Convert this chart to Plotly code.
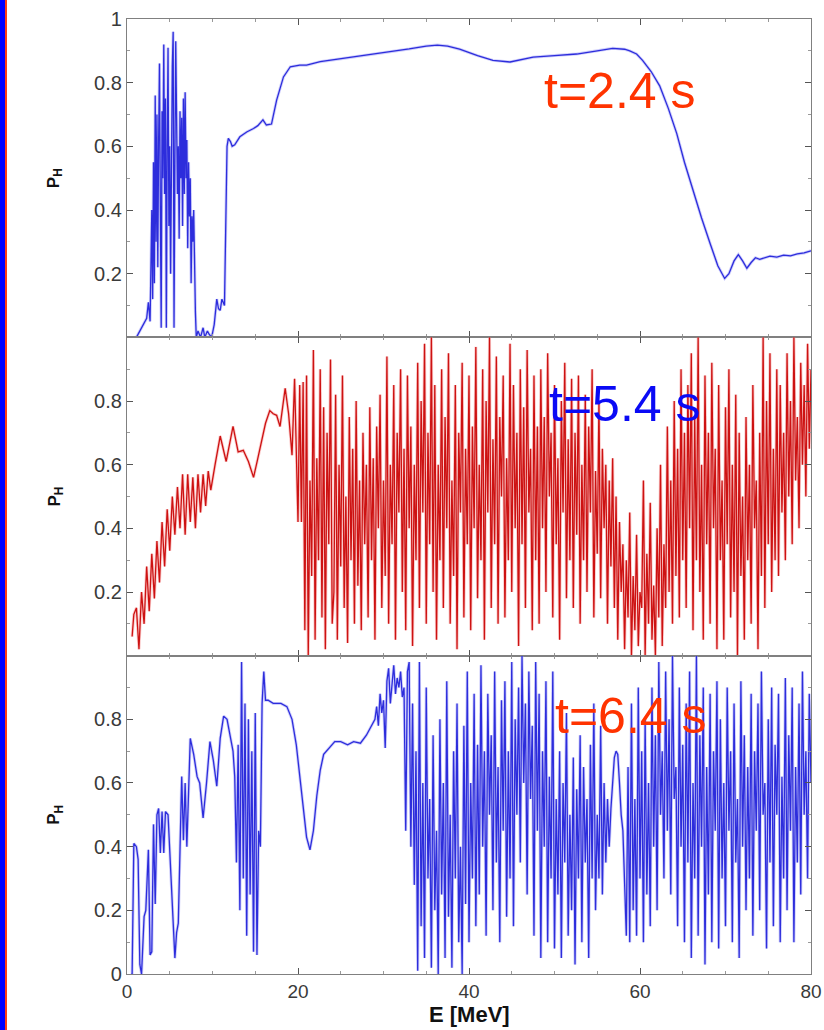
import numpy as np
import plotly.graph_objects as go
from plotly.subplots import make_subplots

# ---------------- data: survival probability P_H vs energy E [MeV] ----------------
# t = 2.4 s (explicit E / P pairs)
top_E = [1.1, 1.5, 1.9, 2.3, 2.5, 2.7, 2.9, 3.0, 3.1, 3.2, 3.3, 3.4, 3.5, 3.6, 3.7, 3.8, 3.9, 4.0,
         4.1, 4.2, 4.3, 4.4, 4.5, 4.6, 4.7, 4.8, 4.9, 5.0, 5.1, 5.2, 5.3, 5.4, 5.5, 5.6, 5.7, 5.8,
         5.9, 6.0, 6.1, 6.2, 6.3, 6.4, 6.5, 6.6, 6.7, 6.8, 6.9, 7.0, 7.1, 7.2, 7.3, 7.4, 7.5, 7.6,
         7.7, 7.8, 7.9, 8.0, 8.1,
         8.3, 8.6, 8.9, 9.1, 9.4, 9.6, 9.9, 10.2, 10.5, 10.7, 10.9, 11.1, 11.4, 11.55, 11.7, 11.85,
         12.1, 12.3, 12.6, 13.2, 14.0, 14.8, 15.3, 15.9, 16.3, 16.9, 17.5, 18.3, 19.1, 20.2, 21.0,
         22.6, 24.5, 26.5, 28.4, 30.5, 33.0, 35.0, 36.3, 37.5, 38.9, 41.0, 42.8, 44.8, 46.2, 47.5,
         50.0, 52.6, 55.0, 56.8, 58.2, 58.8, 59.6, 60.3, 61.3, 62.3, 63.3, 64.3, 65.2, 66.2, 67.2,
         68.2, 69.1, 69.9, 70.4, 71.0, 71.5, 72.0, 72.5, 73.0, 73.5, 74.0, 74.5, 75.2, 76.0, 76.8,
         77.6, 78.4, 79.2, 80.0]
top_P = [0.0, 0.02, 0.04, 0.06, 0.11, 0.05, 0.40, 0.12, 0.55, 0.17, 0.76, 0.30, 0.70, 0.22, 0.62,
         0.86, 0.40, 0.03, 0.71, 0.50, 0.92, 0.45, 0.75, 0.03, 0.60, 0.91, 0.35, 0.60, 0.20, 0.70,
         0.85, 0.96, 0.03, 0.55, 0.93, 0.69, 0.45, 0.60, 0.31, 0.71, 0.50, 0.69, 0.35, 0.75, 0.45,
         0.77, 0.50, 0.62, 0.28, 0.55, 0.38, 0.50, 0.17, 0.38, 0.30, 0.40, 0.20, 0.08, 0.0,
         0.02, 0.0, 0.03, 0.0, 0.02, 0.01, 0.0, 0.04, 0.12, 0.09, 0.085, 0.12, 0.10, 0.35, 0.60, 0.625,
         0.615, 0.60, 0.605, 0.63, 0.645, 0.656, 0.665, 0.683, 0.667, 0.67, 0.745, 0.818, 0.85, 0.855,
         0.855, 0.866, 0.873, 0.88, 0.887, 0.897, 0.906, 0.915, 0.918, 0.915, 0.905, 0.885, 0.87,
         0.865, 0.872, 0.88, 0.885, 0.89, 0.90, 0.908, 0.905, 0.90, 0.89, 0.87, 0.835, 0.79, 0.72,
         0.64, 0.55, 0.46, 0.375, 0.295, 0.225, 0.185, 0.20, 0.24, 0.26, 0.24, 0.217, 0.235, 0.25,
         0.245, 0.25, 0.255, 0.252, 0.258, 0.256, 0.262, 0.265, 0.272]

# t = 5.4 s : low-energy part (explicit pairs) + chaotic part sampled every 0.2 MeV from 20.2
mid_E_head = [0.6, 0.8, 1.1, 1.4, 1.7, 2.0, 2.3, 2.6, 2.9, 3.2, 3.5, 3.8, 4.1, 4.4, 4.7, 5.0, 5.3,
              5.6, 5.9, 6.2, 6.5, 6.8, 7.1, 7.4, 7.7, 8.0, 8.3, 8.6, 8.9, 9.2, 9.5, 9.8, 10.3, 10.9,
              11.6, 12.4, 13.0, 13.6, 14.2, 14.8, 15.3, 15.8, 16.2, 16.7, 17.1, 17.5, 17.9, 18.2,
              18.5, 18.9, 19.3, 19.6, 20.0]
mid_P_head = [0.06, 0.13, 0.15, 0.02, 0.20, 0.10, 0.28, 0.14, 0.32, 0.18, 0.36, 0.23, 0.42, 0.28,
              0.46, 0.33, 0.50, 0.38, 0.53, 0.40, 0.57, 0.38, 0.57, 0.42, 0.56, 0.40, 0.57, 0.45,
              0.57, 0.47, 0.58, 0.52, 0.60, 0.69, 0.61, 0.72, 0.64, 0.645, 0.61, 0.56, 0.62, 0.68,
              0.73, 0.77, 0.76, 0.755, 0.72, 0.78, 0.84, 0.76, 0.63, 0.87, 0.42]
mid_E_start, mid_E_step = 20.2, 0.2
mid_P_tail = [
    .85, .42, .86, .08, .88, .0, .55, .25, .96, .05, .62, .3, .9, .12, .78, .02, .7, .35, .93, .1,
    .2, .82, .05, .6, .28, .88, .15, .5, .04, .75, .3, .65, .1, .8, .22, .55, .08, .7, .35, .6,
    .12, .78, .3, .62, .05, .72, .4, .82, .15, .55, .25, .94, .1, .6, .35, .85, .05, .7, .45, .9,
    .2, .65, .08, .88, .4, .72, .03, .6, .3, .92, .15, .8, .45, .98, .1, .7, .35, 1.0, .2, .85,
    .05, .6, .3, .9, .15, .75, .4, .95, .1, .55, .25, .85, .02, .7, .45, .92, .12, .65, .35, .88,
    .08, .72, .4, .97, .18, .6, .3, .9, .05, .8, .45, 1.0, .15, .68, .35, .94, .1, .75, .5, .88,
    .12, .62, .3, .98, .2, .85, .4, .7, .03, .9, .35, .78, .15, .96, .45, .65, .08, .88, .3, .72,
    .1, .9, .4, .75, .2, .95, .5, .7, .12, .85, .35, .62, .05, .8, .45, .92, .18, .68, .3, .87,
    .15, .7, .38, .88, .1, .6, .3, .82, .2, .72, .45, .9, .12, .58, .32, .8, .18, .65, .4, .6,
    .1, .55, .28, .62, .15, .5, .05, .42, .2, .35, .02, .3, .12, .45, .0, .25, .08, .38, .03, .2,
    .15, .55, .0, .32, .1, .48, .05, .22, .0, .4, .12, .6, .03, .35, .15, .72, .2, .55, .1, .8,
    .25, .65, .12, .9, .3, .7, .15, .85, .4, .95, .08, .75, .3, 1.0, .2, .6, .05, .88, .35, .7,
    .1, .92, .4, .65, .02, .85, .3, .55, .05, .78, .35, .9, .12, .6, .2, .82, .0, .7, .25, .5,
    .05, .75, .3, .6, .1, .85, .4, .55, .02, .7, .25, 1.0, .15, .8, .35, .95, .2, .65, .3, .9,
    .25, .85, .45, .7, .3, .95, .5, .8, .35, 1.0, .55, .75, .4, .92, .6, .85, .5, .98, .65, .9]

# t = 6.4 s : structured part (explicit pairs) + chaotic part sampled every 0.2 MeV from 33.2
bot_E_head = [0.5, 0.6, 0.8, 1.1, 1.3, 1.5, 1.7, 2.0, 2.2, 2.5, 2.7, 2.9, 3.1, 3.3, 3.5, 3.7, 3.9,
              4.1, 4.3, 4.5, 4.8, 5.0, 5.2, 5.4, 5.6, 5.8, 6.0, 6.2, 6.4, 6.6, 6.8, 7.0, 7.4, 7.8,
              8.2, 8.5, 8.9, 9.3, 9.7, 10.1, 10.5, 10.9, 11.3, 11.7, 12.1, 12.4,
              12.6, 12.8, 13.0, 13.2, 13.4, 13.6, 13.8, 14.0, 14.2, 14.4, 14.6, 14.8, 15.0, 15.2,
              15.4, 15.6, 15.8, 16.0, 16.2,
              16.5, 17.1, 18.0, 18.7, 19.3, 19.8, 20.5, 21.0, 21.4, 21.8, 22.2, 22.6, 23.0, 23.6,
              24.3, 25.0, 25.8, 26.5, 27.3, 28.0, 28.8,
              29.0, 29.2, 29.4, 29.6, 29.8, 30.0, 30.2, 30.4, 30.6, 30.8, 31.0, 31.2, 31.4, 31.6,
              31.8, 32.0, 32.2, 32.4, 32.6, 32.8, 33.0]
bot_P_head = [0.0, 0.0, 0.41, 0.40, 0.36, 0.03, 0.0, 0.18, 0.20, 0.39, 0.06, 0.07, 0.47, 0.22,
              0.50, 0.52, 0.38, 0.51, 0.38, 0.51, 0.50, 0.38, 0.30, 0.13, 0.05, 0.13, 0.16, 0.39,
              0.62, 0.42, 0.60, 0.40, 0.74, 0.69, 0.62, 0.60, 0.49, 0.60, 0.73, 0.67, 0.59, 0.74,
              0.81, 0.80, 0.74, 0.70,
              0.62, 0.35, 0.72, 0.20, 0.98, 0.30, 0.85, 0.12, 0.80, 0.25, 0.70, 0.07, 0.82, 0.06,
              0.45, 0.40, 0.85, 0.95, 0.86,
              0.86, 0.85, 0.85, 0.84, 0.80, 0.72, 0.55, 0.43, 0.39, 0.45, 0.56, 0.64, 0.69, 0.71,
              0.73, 0.73, 0.72, 0.73, 0.725, 0.75, 0.79,
              0.80, 0.84, 0.78, 0.88, 0.82, 0.86, 0.71, 0.92, 0.96, 0.85, 0.90, 0.97, 0.88, 0.93,
              0.90, 0.95, 0.87, 0.90, 0.45, 0.95, 0.98]
bot_E_start, bot_E_step = 33.2, 0.2
bot_P_tail = [
    .4, .85, .28, .7, .01, .98, .15, .6, .05, .9, .3, .55, .02, .75, .2, .45, .0, .8, .25, .6,
    .05, .92, .18, .5, .02, .7, .3, .85, .1, .4, .0, .78, .22, .95, .1, .6, .3, .88, .15, .72,
    .25, .97, .4, .7, .12, .88, .5, .75, .2, .95, .35, .65, .1, .86, .45, .92, .18, .7, .3, .98,
    .15, .8, .5, .9, .35, 1.0, .6, .85, .25, .95, .55, .78, .12, .98, .45, .88, .05, .7, .4, .92,
    .1, .62, .3, .95, .08, .55, .25, .7, .05, .6, .35, .82, .12, .5, .2, .68, .03, .58, .3, .75,
    .1, .65, .35, .55, .05, .72, .3, .85, .2, .5, .3, .78, .25, .6, .35, .55, .4, .52, .6, .68,
    .7, .69, .6, .5, .45, .3, .12, .65, .1, .85, .2, .55, .12, .9, .3, .7, .1, .8, .25, .6,
    .15, .9, .4, .75, .2, .98, .5, .7, .3, .95, .45, .8, .25, 1.0, .55, .65, .15, .9, .4, .72,
    .1, .85, .35, .95, .05, .6, .3, 1.0, .12, .75, .4, .9, .03, .65, .25, .88, .1, .7, .45, .92,
    .08, .8, .3, .6, .15, .9, .45, .7, .1, .85, .35, .55, .05, .92, .4, .75, .2, .65, .3, .88,
    .12, .7, .45, .85, .2, .95, .5, .6, .08, .8, .35, .9, .15, .72, .5, .88, .1, .62, .3, .93,
    .2, .75, .45, .9, .1, .65, .35, .85, .25, .95, .5, .7, .3, .88, .6]

panel_labels = ["t=2.4 s", "t=5.4 s", "t=6.4 s"]
ytick_vals = [
    [0.2, 0.4, 0.6, 0.8, 1.0],
    [0.2, 0.4, 0.6, 0.8],
    [0.0, 0.2, 0.4, 0.6, 0.8],
]
ytick_text = [
    ["0.2", "0.4", "0.6", "0.8", "1"],
    ["0.2", "0.4", "0.6", "0.8"],
    ["0", "0.2", "0.4", "0.6", "0.8"],
]
xtick_vals = [0, 20, 40, 60, 80]


def sampled(head_E, head_P, start, step, tail):
    tail_E = np.round(start + step * np.arange(len(tail)), 3)
    return np.concatenate([head_E, tail_E]), np.concatenate([head_P, tail])


mid_E, mid_P = sampled(mid_E_head, mid_P_head, mid_E_start, mid_E_step, mid_P_tail)
bot_E, bot_P = sampled(bot_E_head, bot_P_head, bot_E_start, bot_E_step, bot_P_tail)

# ---------------- layout constants ----------------
FIG_W, FIG_H = 824, 1030
M_L, M_R, M_T, M_B = 127, 13, 19, 56
PLOT_W = FIG_W - M_L - M_R
PLOT_H = FIG_H - M_T - M_B

BLUE_LINE = "rgb(45,45,220)"
BLUE_HALO = "rgb(150,150,245)"
RED_LINE = "rgb(205,18,18)"
RED_HALO = "rgb(245,140,140)"
ORANGE_TXT = "rgb(255,51,0)"
BLUE_TXT = "rgb(10,10,245)"
AXIS_GREY = "#808080"
FONT = "Liberation Sans, Arial, Helvetica, sans-serif"

fig = make_subplots(rows=3, cols=1, vertical_spacing=0)

series = [(top_E, top_P, BLUE_LINE, BLUE_HALO),
          (mid_E, mid_P, RED_LINE, RED_HALO),
          (bot_E, bot_P, BLUE_LINE, BLUE_HALO)]
for i, (E, P, col, halo) in enumerate(series, start=1):
    # soft halo under the curve, then the curve itself
    fig.add_trace(go.Scatter(x=E, y=P, mode="lines", line=dict(color=halo, width=3),
                             opacity=0.45, showlegend=False, hoverinfo="skip"), row=i, col=1)
    fig.add_trace(go.Scatter(x=E, y=P, mode="lines", line=dict(color=col, width=1.3),
                             showlegend=False, hoverinfo="skip"), row=i, col=1)

for i in range(1, 4):
    fig.update_xaxes(range=[0, 80], tickmode="array", tickvals=xtick_vals,
                     showticklabels=(i == 3), ticks="inside", ticklen=6,
                     tickcolor="#555", tickwidth=1, automargin=False,
                     minor=dict(tickmode="array", tickvals=[v for v in range(5, 80, 5) if v % 20],
                                ticks="inside", ticklen=3, tickcolor="#999"),
                     showline=True, linecolor=AXIS_GREY, linewidth=1.2, mirror="ticks",
                     showgrid=False, zeroline=False,
                     tickfont=dict(family=FONT, size=19, color="#3a3a3a"),
                     row=i, col=1)
    fig.update_yaxes(range=[0, 1], tickmode="array", tickvals=ytick_vals[i - 1],
                     ticktext=ytick_text[i - 1], ticks="inside", ticklen=6,
                     tickcolor="#555", tickwidth=1, automargin=False,
                     minor=dict(tickmode="array", tickvals=[0.1, 0.3, 0.5, 0.7, 0.9],
                                ticks="inside", ticklen=3, tickcolor="#999"),
                     showline=True, linecolor=AXIS_GREY, linewidth=1.2, mirror="ticks",
                     showgrid=False, zeroline=False,
                     tickfont=dict(family=FONT, size=20, color="#3a3a3a"),
                     row=i, col=1)

# panel time labels
label_pos = [(48.5, 0.775, ORANGE_TXT), (49.1, 0.792, BLUE_TXT), (49.8, 0.812, ORANGE_TXT)]
for i, (txt, (xe, yp, col)) in enumerate(zip(panel_labels, label_pos), start=1):
    xr = "x" if i == 1 else f"x{i}"
    yr = "y" if i == 1 else f"y{i}"
    fig.add_annotation(x=xe, y=yp, xref=xr, yref=yr, text=txt, showarrow=False,
                       xanchor="left", yanchor="middle",
                       font=dict(family=FONT, size=50, color=col))

# y-axis titles, one per panel
for k in range(3):
    yc = 1 - (k + 0.5) / 3
    fig.add_annotation(x=(55 - M_L) / PLOT_W, y=yc, xref="paper", yref="paper",
                       text="<b>P<sub>H</sub></b>", textangle=-90, showarrow=False,
                       xanchor="center", yanchor="middle",
                       font=dict(family=FONT, size=17, color="#111"))

# x-axis title
fig.add_annotation(x=0.5, y=(M_T + PLOT_H - 1015) / PLOT_H, xref="paper", yref="paper",
                   text="<b>E [MeV]</b>", showarrow=False, xanchor="center", yanchor="middle",
                   font=dict(family=FONT, size=22, color="#111"))


# slide-frame stripes on the left edge
def px_x(px):
    return (px - M_L) / PLOT_W


y_top = (M_T + PLOT_H) / PLOT_H
y_bot = (M_T + PLOT_H - FIG_H) / PLOT_H
fig.add_shape(type="rect", xref="paper", yref="paper", x0=px_x(0), x1=px_x(5),
              y0=y_bot, y1=y_top, fillcolor="rgb(0,0,255)", line=dict(width=0), layer="above")
fig.add_shape(type="rect", xref="paper", yref="paper", x0=px_x(5), x1=px_x(7),
              y0=y_bot, y1=y_top, fillcolor="rgb(255,60,20)", line=dict(width=0), layer="above")

fig.update_layout(width=FIG_W, height=FIG_H,
                  margin=dict(l=M_L, r=M_R, t=M_T, b=M_B, pad=0, autoexpand=False),
                  paper_bgcolor="white", plot_bgcolor="white",
                  font=dict(family=FONT))

fig.write_html("out.html")
